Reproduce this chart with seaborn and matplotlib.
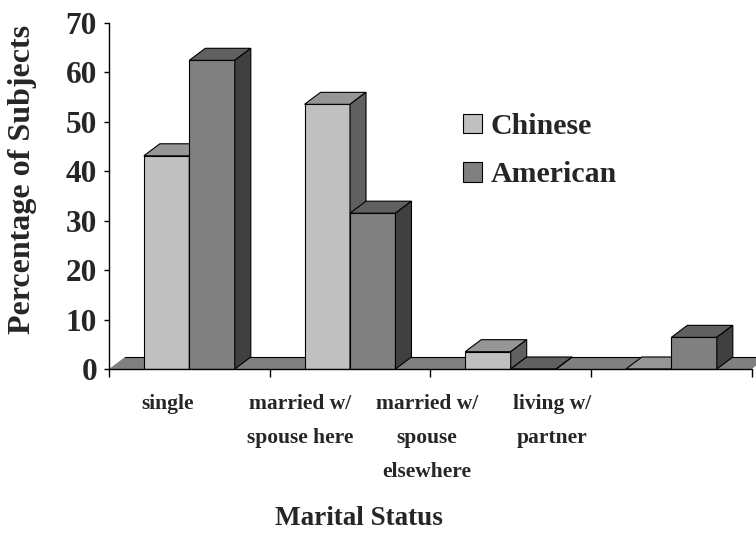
import matplotlib
matplotlib.use("Agg")
import matplotlib.pyplot as plt
from matplotlib.patches import Polygon, Patch
import pandas as pd
import seaborn as sns

# --- data -------------------------------------------------------------
categories = ["single", "married w/\nspouse here",
              "married w/\nspouse\nelsewhere", "living w/\npartner"]
groups = ["Chinese", "American"]
chinese = [43.1, 53.5, 3.5, 0.0]
american = [62.4, 31.5, 0.0, 6.4]
y_ticks = [0, 10, 20, 30, 40, 50, 60, 70]

df = pd.DataFrame({
    "status": categories * 2,
    "group": [groups[0]] * len(categories) + [groups[1]] * len(categories),
    "pct": chinese + american,
})

# --- styling ----------------------------------------------------------
front_colors = {"Chinese": "#c0c0c0", "American": "#808080"}
top_colors = {"Chinese": "#969696", "American": "#606060"}
side_colors = {"Chinese": "#606060", "American": "#404040"}
floor_color = "#808080"

sns.set_theme(style="white")
plt.rcParams["font.family"] = ["Liberation Serif", "DejaVu Serif"]
plt.rcParams["font.weight"] = "bold"

W, H = 756, 533
fig = plt.figure(figsize=(W / 100, H / 100), dpi=100)
fig.patch.set_facecolor("white")

# plot area in pixels
ax_l, ax_r, ax_t, ax_b = 109.0, 751.7, 22.7, 369.0
ax = fig.add_axes([ax_l / W, 1 - ax_b / H, (ax_r - ax_l) / W, (ax_b - ax_t) / H])
ax.set_facecolor("none")

sns.barplot(data=df, x="status", y="pct", hue="group",
            order=categories, hue_order=groups, palette=front_colors,
            saturation=1, width=0.566, edgecolor="black", linewidth=0.8,
            legend=False, ax=ax)

ax.set_xlim(-0.5, len(categories) - 0.5)
ax.set_ylim(0, 70)

# depth of the pseudo-3D extrusion, in data units
depth_px_x, depth_px_y = 16.0, 12.0
dx = depth_px_x / ((ax_r - ax_l) / len(categories))
dy = depth_px_y / ((ax_b - ax_t) / 70.0)

# floor slab
x_lo, x_hi = -0.5, len(categories) - 0.5
ax.add_patch(Polygon([(x_lo, 0), (x_hi, 0), (x_hi + dx, dy), (x_lo + dx, dy)],
                     closed=True, facecolor=floor_color, edgecolor="none",
                     zorder=1, clip_on=False))
ax.plot([x_lo + dx, x_hi + dx], [dy, dy], color="black", lw=0.8,
        zorder=1.1, clip_on=False)

# tops and right-hand sides of every bar
for h_idx, (grp, container) in enumerate(zip(groups, ax.containers)):
    for rect in container:
        x0, w, h = rect.get_x(), rect.get_width(), rect.get_height()
        cat = int(round(x0 + w / 2))
        z = 3 + cat * 0.1 + h_idx * 0.04
        rect.set_zorder(z)
        top = Polygon([(x0, h), (x0 + w, h), (x0 + w + dx, h + dy), (x0 + dx, h + dy)],
                      closed=True, facecolor=top_colors[grp], edgecolor="black",
                      lw=0.8, zorder=z + 0.01, clip_on=False)
        side = Polygon([(x0 + w, 0), (x0 + w + dx, dy), (x0 + w + dx, h + dy), (x0 + w, h)],
                       closed=True, facecolor=side_colors[grp], edgecolor="black",
                       lw=0.8, zorder=z + 0.01, clip_on=False)
        ax.add_patch(top)
        ax.add_patch(side)

# --- axes ---------------------------------------------------------------
for s in ("top", "right"):
    ax.spines[s].set_visible(False)
for s in ("left", "bottom"):
    ax.spines[s].set_color("black")
    ax.spines[s].set_linewidth(1.0)
ax.spines["bottom"].set_zorder(10)

ax.set_yticks(y_ticks)
ax.tick_params(axis="y", left=True, direction="out", length=3.6, width=1.0,
               color="black", pad=5, labelsize=22.5)

label_x = [-0.133, 0.689, 1.479, 2.257]
ax.set_xticks([i - 0.5 for i in range(len(categories) + 1)], minor=True)
ax.set_xticks(label_x, labels=categories)
ax.tick_params(axis="x", which="major", bottom=True, length=0, pad=18,
               labelsize=15.5)
ax.tick_params(axis="x", which="minor", bottom=True, direction="out",
               length=5.8, width=1.0, color="black")
for lbl in ax.get_xticklabels():
    lbl.set_linespacing(1.92)
    lbl.set_fontweight("bold")
for lbl in ax.get_yticklabels():
    lbl.set_fontweight("bold")

ax.set_ylabel("Percentage of Subjects", fontsize=23, fontweight="bold")
ax.yaxis.set_label_coords(-0.112, 0.546)
ax.set_xlabel("Marital Status", fontsize=19.5, fontweight="bold")
ax.xaxis.set_label_coords(0.389, -0.397)

handles = [Patch(facecolor=front_colors[g], edgecolor="black", lw=0.8, label=g)
           for g in groups]
ax.legend(handles=handles, loc="upper left",
          bbox_to_anchor=(463 / W, 1 - 113 / H), bbox_transform=fig.transFigure,
          frameon=False, prop=dict(family="Liberation Serif", weight="bold", size=21.5),
          handlelength=0.63, handleheight=0.63, handletextpad=0.3,
          labelspacing=0.72, borderpad=0, borderaxespad=0)

fig.savefig("out.png", dpi=100, facecolor="white")
